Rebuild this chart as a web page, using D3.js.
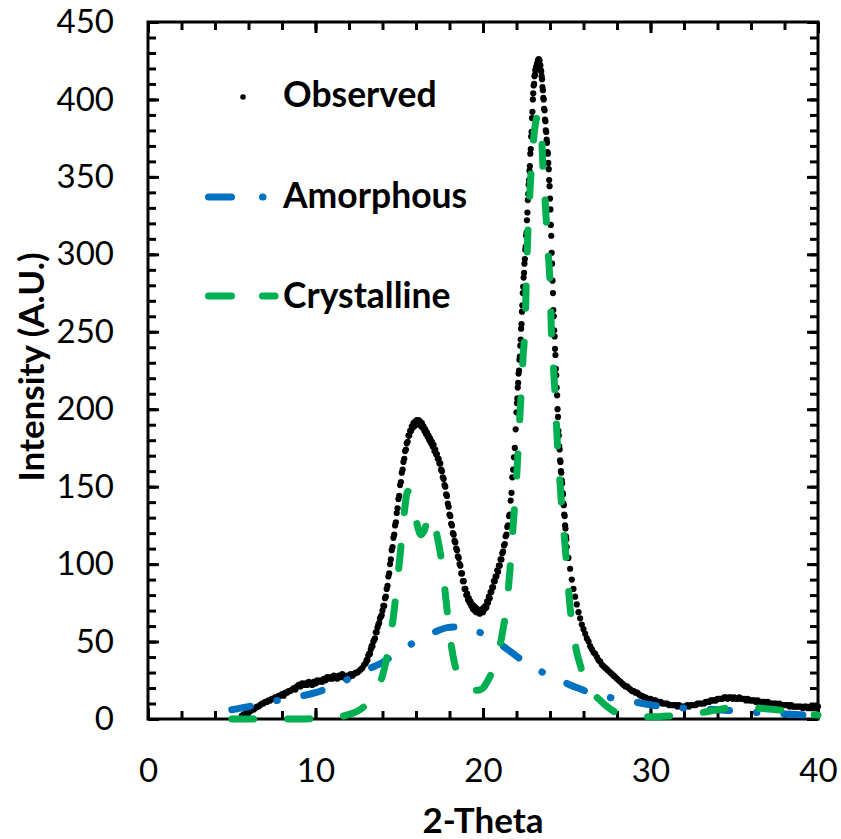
<!DOCTYPE html>
<html>
<head>
<meta charset="utf-8">
<script src="https://cdn.jsdelivr.net/npm/d3@7"></script>
<style>
body { margin: 0; background: #fff; }
svg { display: block; font-family: Lato, "Noto Sans", sans-serif; }
</style>
</head>
<body>
<script>
// observed pattern in four sampling runs
var obsLowStart = 5.6, obsLowStep = 0.1;
var obsLow = [2, 3, 3, 4, 4, 5, 6, 6, 7, 8, 8, 9, 10, 10, 11, 11, 12, 12, 13, 13,
    14, 13, 15, 15, 16, 15, 17, 17, 18, 18, 19, 20, 19, 21, 22, 21, 23, 22, 23, 22,
    24, 23, 22, 24, 23, 25, 24, 25, 24, 26, 25, 27, 26, 27, 26, 28, 27, 26, 28, 27,
    29, 27, 26, 28, 27, 29, 28, 29, 30, 30, 31, 32, 33, 35];

var obsPeak1Start = 13.0, obsPeak1Step = 0.05;
var obsPeak1 = [36, 38, 38, 41, 42, 42, 45, 47, 47, 50, 51, 52, 56, 56, 59, 61, 62, 65, 66, 67,
    70, 73, 73, 78, 79, 84, 86, 92, 94, 100, 103, 109, 111, 117, 119, 125, 127, 133, 136, 142,
    144, 151, 153, 159, 161, 166, 168, 173, 174, 178, 179, 183, 183, 186, 186, 189, 188, 191, 189, 192,
    190, 193, 192, 193, 191, 192, 189, 191, 188, 189, 186, 187, 184, 185, 182, 183, 180, 181, 178, 179,
    176, 177, 173, 174, 171, 171, 168, 168, 165, 165, 161, 160, 156, 155, 151, 150, 145, 144, 139, 137,
    132, 131, 126, 125, 120, 119, 115, 114, 110, 109, 105, 104, 100, 99, 94, 94, 89, 89, 84, 84,
    80, 81, 77, 78, 75, 76, 73, 74, 71, 73, 70, 72, 69, 71, 69, 70, 68, 70, 69, 71,
    69, 72, 71, 73, 72, 76, 75, 79, 78, 82, 82, 85, 85, 89, 89, 92, 92, 96, 95, 99,
    99, 103, 103, 107, 108, 112, 113, 118, 119, 124, 125, 131, 132, 141, 146, 156, 161, 169, 175, 187];

var obsPeak2Start = 22.0, obsPeak2Step = 0.025;
var obsPeak2 = [198, 204, 207, 214, 217, 223, 225, 232, 234, 241, 245, 252, 255, 263, 267, 275, 279, 285, 288, 294,
    297, 303, 305, 312, 314, 322, 327, 335, 339, 345, 348, 354, 357, 365, 368, 376, 379, 388, 392, 400,
    404, 409, 410, 415, 416, 419, 419, 421, 421, 423, 423, 425, 424, 426, 425, 425, 422, 422, 419, 418,
    415, 413, 408, 406, 401, 400, 394, 393, 387, 386, 380, 379, 374, 372, 366, 365, 359, 355, 348, 344,
    336, 329, 319, 312, 301, 294, 283, 275, 264, 260, 251, 247, 239, 235, 226, 222, 214, 209, 200, 195,
    186, 183, 176, 174, 167, 166, 160, 159, 154, 152, 146, 145, 139, 138, 132, 131, 125, 123, 118, 116,
    111];

var obsTailStart = 25.1, obsTailStep = 0.1;
var obsTail = [104, 97, 90, 84, 79, 74, 69, 65, 61, 58, 55, 52, 50, 47, 45, 43, 42, 40, 38, 37,
    35, 34, 33, 32, 31, 30, 29, 28, 27, 26, 25, 24, 23, 22, 21, 21, 20, 19, 18, 18,
    17, 17, 16, 15, 15, 14, 14, 13, 13, 13, 12, 12, 12, 11, 11, 11, 10, 10, 10, 10,
    9, 9, 9, 9, 9, 8, 9, 8, 8, 8, 8, 9, 8, 9, 9, 9, 9, 10, 10, 10,
    10, 10, 11, 11, 11, 12, 12, 12, 12, 13, 13, 13, 13, 14, 14, 13, 14, 14, 13, 14,
    13, 13, 14, 13, 13, 13, 12, 13, 12, 12, 12, 12, 11, 12, 11, 11, 11, 11, 10, 11,
    10, 10, 10, 10, 10, 9, 10, 9, 9, 9, 9, 9, 8, 9, 8, 8, 8, 8, 8, 8,
    7, 8, 8, 7, 8, 7, 8, 7, 8, 8];

var amorTheta = [5.0, 6.0, 7.0, 8.0, 9.0, 10.0, 11.0, 12.0, 13.0, 14.0, 15.0, 16.0, 16.65, 17.3, 17.85,
    18.6, 19.4, 20.0, 20.6, 21.2, 21.7, 22.2, 22.8, 23.4, 24.1, 24.7, 25.2, 25.9, 26.6, 27.5,
    28.6, 29.8, 31.2, 32.5, 34.0, 35.0, 35.9, 37.0, 38.5, 40.0];
var amorIntensity = [6, 8, 10.5, 12.5, 14.5, 17, 21, 26, 31.5, 36.5, 44, 50, 53.5, 57, 59,
    59.5, 57.5, 55, 51, 47, 43, 39, 35, 31, 27.5, 24.5, 22, 19, 16, 14,
    12, 9.5, 7.5, 6.8, 6, 5.2, 4.5, 3.8, 3, 2];

var crysTheta = [5.0, 6.0, 7.0, 8.0, 9.0, 10.0, 11.0, 11.5, 12.0, 12.5, 13.0, 13.4, 13.7, 14.0, 14.3,
    14.6, 14.9, 15.2, 15.35, 15.5, 15.65, 15.9, 16.1, 16.3, 16.5, 16.7, 16.9, 17.1, 17.3, 17.5,
    17.7, 17.9, 18.1, 18.3, 18.5, 18.8, 19.1, 19.4, 19.7, 20.0, 20.3, 20.6, 20.9, 21.2, 21.4,
    21.6, 21.8, 22.0, 22.2, 22.3, 22.4, 22.5, 22.6, 22.7, 22.8, 22.9, 23.0, 23.1, 23.2, 23.3,
    23.45, 23.6, 23.7, 23.8, 23.9, 24.0, 24.1, 24.2, 24.3, 24.45, 24.6, 24.7, 24.85, 25.0, 25.2,
    25.4, 25.6, 25.8, 26.0, 26.3, 26.6, 26.9, 27.3, 27.8, 28.3, 29.0, 29.5, 30.0, 30.5, 31.0,
    31.5, 32.0, 32.5, 33.0, 33.5, 34.0, 34.5, 35.0, 35.5, 36.0, 36.5, 37.0, 37.5, 38.0, 38.5,
    39.0, 39.5, 40.0];
var crysIntensity = [0, 0, 0, 0, 0, 0.3, 1, 1.5, 3, 5, 9, 14, 20, 28, 42,
    62, 90, 122, 138, 147, 146, 135, 124, 119, 122, 129, 132, 126, 116, 104,
    86, 66, 48, 36, 29, 23, 20, 18.5, 18.5, 20, 25, 32, 42, 58, 72,
    95, 125, 155, 195, 215, 235, 251, 288, 320, 340, 358, 372, 382, 388, 390,
    385, 352, 336, 318, 300, 282, 245, 228, 210, 176, 152, 137, 118, 99, 72,
    55, 43, 35, 28, 21, 16, 13, 9, 5, 3.5, 2, 1.5, 1.5, 1.5, 2,
    2, 2.5, 3, 4, 5, 6, 7, 8, 8, 7.5, 7, 6.5, 6, 5.5, 5,
    3.5, 3, 2.5];

var xMajor = [0, 10, 20, 30, 40];
var xMinor = d3.range(0, 41, 2);
var yMajor = [0, 50, 100, 150, 200, 250, 300, 350, 400, 450];
var yMinor = d3.range(0, 451, 10);

var legendNames = ["Observed", "Amorphous", "Crystalline"];

function createChart() {

    var w = 841;
    var h = 839;
    var left = 148, right = 818, top = 22, bottom = 719;

    var observed = [];
    [[obsLowStart, obsLowStep, obsLow],
     [obsPeak1Start, obsPeak1Step, obsPeak1],
     [obsPeak2Start, obsPeak2Step, obsPeak2],
     [obsTailStart, obsTailStep, obsTail]].forEach(function (seg) {
        seg[2].forEach(function (v, i) {
            observed.push({ theta: seg[0] + i * seg[1], intensity: v });
        });
    });

    var amorphous = amorTheta.map(function (t, i) { return { theta: t, intensity: amorIntensity[i] }; });
    var crystalline = crysTheta.map(function (t, i) { return { theta: t, intensity: crysIntensity[i] }; });

    var xScale = d3.scaleLinear().domain([0, 40]).range([left, right]);
    var yScale = d3.scaleLinear().domain([0, 450]).range([bottom, top]);

    var svg = d3.select("body")
        .append("svg")
        .attr("width", w)
        .attr("height", h);

    svg.append("rect")
        .attr("width", w)
        .attr("height", h)
        .attr("fill", "#fff");

    // axes: ticks point inward on all four sides
    function addAxis(axis, transform) {
        var g = svg.append("g")
            .attr("transform", transform)
            .call(axis);
        g.select(".domain").remove();
        g.selectAll(".tick line")
            .attr("stroke", "#000")
            .attr("stroke-width", 3);
        g.selectAll("text")
            .attr("fill", "#000")
            .style("font-family", "Lato, sans-serif")
            .style("font-size", "33px");
        return g;
    }

    addAxis(d3.axisBottom(xScale).tickValues(xMinor).tickSize(-8).tickFormat(""), "translate(0," + bottom + ")");
    addAxis(d3.axisBottom(xScale).tickValues(xMajor).tickSize(-11).tickPadding(40), "translate(0," + bottom + ")");
    addAxis(d3.axisTop(xScale).tickValues(xMinor).tickSize(-8).tickFormat(""), "translate(0," + top + ")");
    addAxis(d3.axisTop(xScale).tickValues(xMajor).tickSize(-11).tickFormat(""), "translate(0," + top + ")");
    addAxis(d3.axisLeft(yScale).tickValues(yMinor).tickSize(-8).tickFormat(""), "translate(" + left + ",0)");
    addAxis(d3.axisLeft(yScale).tickValues(yMajor).tickSize(-11).tickPadding(34), "translate(" + left + ",0)");
    addAxis(d3.axisRight(yScale).tickValues(yMinor).tickSize(-8).tickFormat(""), "translate(" + right + ",0)");
    addAxis(d3.axisRight(yScale).tickValues(yMajor).tickSize(-11).tickFormat(""), "translate(" + right + ",0)");

    svg.append("rect")
        .attr("x", left)
        .attr("y", top)
        .attr("width", right - left)
        .attr("height", bottom - top)
        .attr("fill", "none")
        .attr("stroke", "#000")
        .attr("stroke-width", 3);

    svg.selectAll("circle.obs")
        .data(observed)
        .enter()
        .append("circle")
        .attr("class", "obs")
        .attr("cx", function (d) { return xScale(d.theta); })
        .attr("cy", function (d) { return yScale(d.intensity); })
        .attr("r", 3.1)
        .attr("fill", "#000");

    var line = d3.line()
        .x(function (d) { return xScale(d.theta); })
        .y(function (d) { return yScale(d.intensity); })
        .curve(d3.curveMonotoneX);

    svg.append("path")
        .datum(amorphous)
        .attr("fill", "none")
        .attr("stroke", "#0070C0")
        .attr("stroke-width", 7)
        .attr("stroke-linecap", "round")
        .attr("stroke-dasharray", "19,27,0.5,27")
        .attr("d", line);

    svg.append("path")
        .datum(crystalline)
        .attr("fill", "none")
        .attr("stroke", "#00B050")
        .attr("stroke-width", 7)
        .attr("stroke-linecap", "round")
        .attr("stroke-dasharray", "22,34")
        .attr("d", line);

    // legend
    var legend = svg.append("g");
    legend.append("circle")
        .attr("cx", 243)
        .attr("cy", 97)
        .attr("r", 2.8)
        .attr("fill", "#000");
    legend.append("line")
        .attr("x1", 208.5).attr("x2", 275)
        .attr("y1", 197).attr("y2", 197)
        .attr("stroke", "#0070C0")
        .attr("stroke-width", 7)
        .attr("stroke-linecap", "round")
        .attr("stroke-dasharray", "23,31,0.5,40");
    legend.append("line")
        .attr("x1", 208.5).attr("x2", 275)
        .attr("y1", 296).attr("y2", 296)
        .attr("stroke", "#00B050")
        .attr("stroke-width", 7)
        .attr("stroke-linecap", "round")
        .attr("stroke-dasharray", "23,31");

    legend.selectAll("text")
        .data(legendNames)
        .enter()
        .append("text")
        .attr("x", 283)
        .attr("y", function (d, i) { return [107, 208, 308][i]; })
        .style("font-size", "35.5px")
        .style("font-weight", "bold")
        .text(function (d) { return d; });

    svg.append("text")
        .attr("x", (left + right) / 2)
        .attr("y", 833)
        .attr("text-anchor", "middle")
        .style("font-size", "35px")
        .style("font-weight", "bold")
        .text("2-Theta");

    svg.append("text")
        .attr("transform", "translate(44,367) rotate(-90)")
        .attr("text-anchor", "middle")
        .style("font-size", "35px")
        .style("font-weight", "bold")
        .text("Intensity (A.U.)");
}

createChart();
</script>
</body>
</html>
